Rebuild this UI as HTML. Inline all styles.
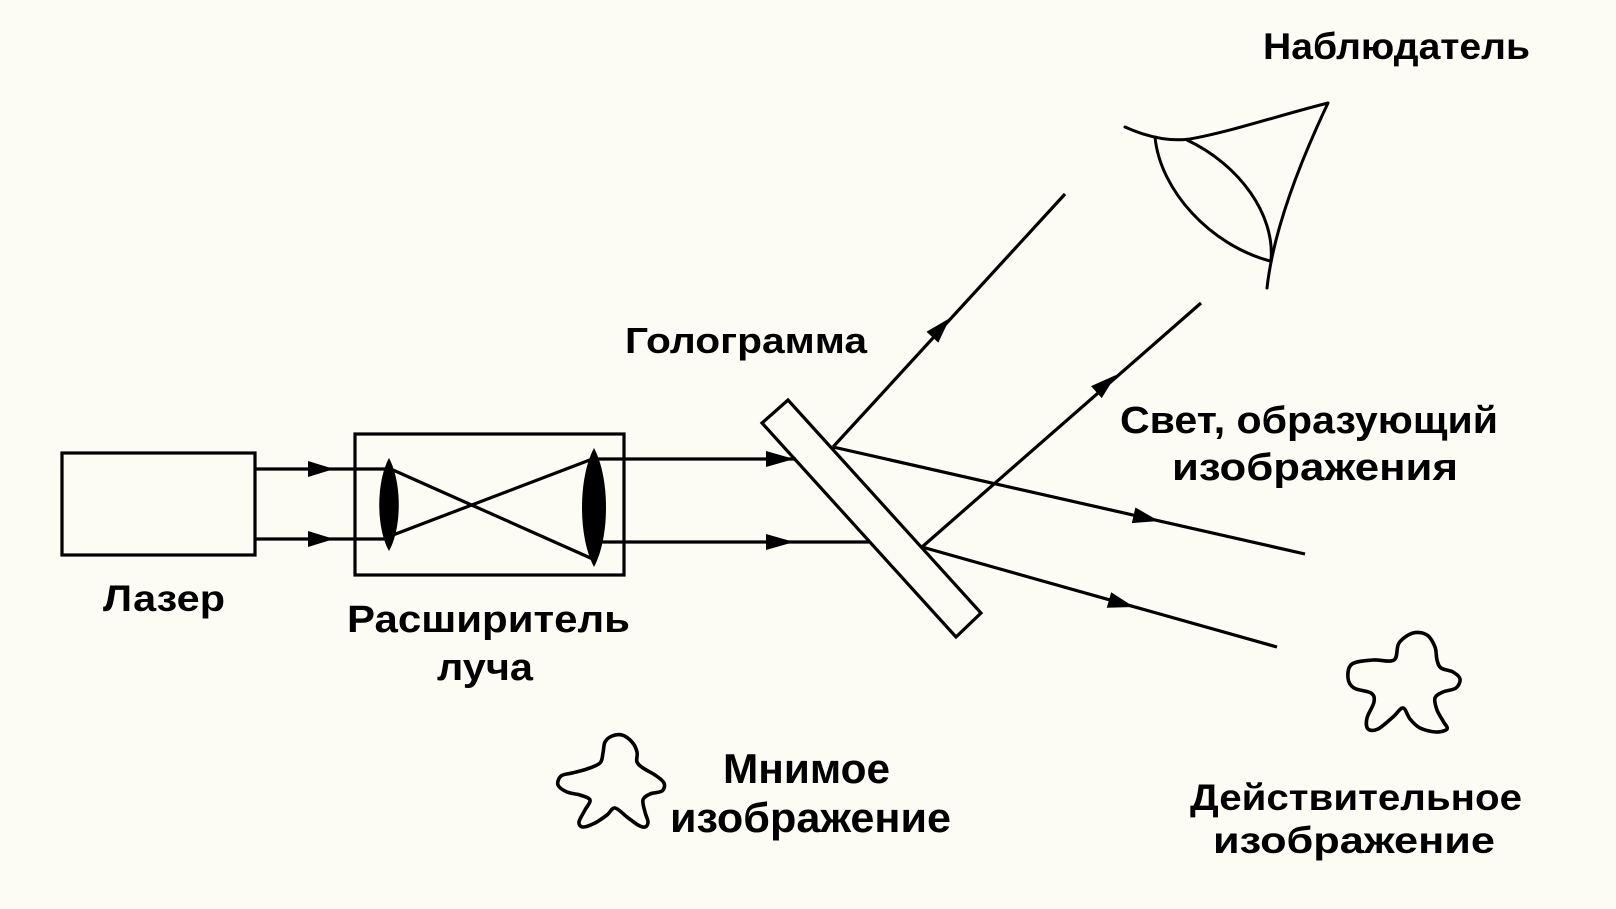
<!DOCTYPE html>
<html>
<head>
<meta charset="utf-8">
<style>
  html, body { margin: 0; padding: 0; background: #fcfcf4; }
  svg { display: block; }
  text { font-family: "Liberation Sans", "DejaVu Sans", sans-serif; font-weight: bold; fill: #000; }
</style>
</head>
<body>
<svg id="dia" width="1616" height="909" viewBox="0 0 1616 909" xmlns="http://www.w3.org/2000/svg">
  <rect x="0" y="0" width="1616" height="909" fill="#fcfcf4"/>

  <g stroke="#000" stroke-width="3.2" fill="none" stroke-linecap="butt">
    <!-- Laser box -->
    <rect x="62" y="453" width="193" height="102"/>
    <!-- Beam expander box -->
    <rect x="355" y="434" width="269" height="141"/>

    <!-- Laser beams into expander -->
    <line x1="255" y1="469" x2="389" y2="469"/>
    <line x1="255" y1="539" x2="389" y2="539"/>

    <!-- Crossing rays inside expander -->
    <line x1="393" y1="470" x2="595" y2="560"/>
    <line x1="393" y1="535" x2="595" y2="458"/>

    <!-- Expanded beams to hologram -->
    <line x1="594" y1="459" x2="796" y2="459"/>
    <line x1="594" y1="542" x2="870" y2="542"/>

    <!-- Hologram plate -->
    <polygon points="762,423 788,400 981,613 956,637" stroke-linejoin="miter"/>

    <!-- Diffracted rays -->
    <line x1="833" y1="447" x2="1065" y2="194"/>
    <line x1="922" y1="547" x2="1201" y2="303"/>
    <line x1="833" y1="447" x2="1305" y2="554"/>
    <line x1="922" y1="547" x2="1277" y2="647"/>
  </g>

  <!-- Lenses -->
  <g fill="#000" stroke="none">
    <path d="M389,458 C402,482 402,528 389,551 C376,528 376,482 389,458 Z"/>
    <path d="M594,448 C610,478 610,537 594,567 C578,537 578,478 594,448 Z"/>
  </g>

  <!-- Arrowheads -->
  <g fill="#000" stroke="none">
    <polygon points="308,461 334,469 308,477"/>
    <polygon points="308,531 334,539 308,547"/>
    <polygon points="766,451 794,459 766,467"/>
    <polygon points="766,534 794,542 766,550"/>
    <polygon points="950,318 938.3,342.6 926.5,331.8"/>
    <polygon points="1116,375 1101.7,398.1 1091.1,386.1"/>
    <polygon points="1159,521 1131.8,523.1 1135.4,507.5"/>
    <polygon points="1134,607 1106.8,607.7 1111.2,592.3"/>
  </g>

  <!-- Eye (observer) -->
  <g stroke="#000" stroke-width="3" fill="none" stroke-linecap="round" stroke-linejoin="round">
    <path d="M1125,127 C1145,136 1168,142 1190,139 C1230,132 1280,115 1328,103 Q1275,215 1267,288"/>
    <path d="M1155,137 C1160,190 1210,245 1270,261"/>
    <path d="M1187,140 C1240,165 1275,215 1271,260"/>
  </g>

  <!-- Figures -->
  <g id="blobs" stroke="#000" stroke-width="3.6" fill="none" stroke-linejoin="round">
    <polygon class="blob" points="612,736 622,735 632,742 637,752 637,762 643,768 655,775 664,783 662,791 650,794 643,800 645,812 648,822 645,827 638,825 627,817 615,808 607,815 595,823 583,827 579,822 585,810 590,800 580,795 567,792 558,785 561,776 572,773 587,769 600,763 603,753 605,742"/>
    <polygon class="blob" points="1413,633 1427,635 1435,647 1437,660 1441,668 1453,672 1460,679 1456,688 1443,692 1435,698 1437,710 1443,721 1447,729 1436,732 1420,728 1410,719 1403,708 1393,717 1378,729 1368,729 1367,718 1374,702 1371,693 1354,688 1348,678 1352,664 1373,660 1394,660 1399,643"/>
  </g>

  <!-- Labels -->
  <text x="1263" y="59" font-size="37" textLength="267" lengthAdjust="spacingAndGlyphs">Наблюдатель</text>
  <text x="625" y="353" font-size="36" textLength="242" lengthAdjust="spacingAndGlyphs">Голограмма</text>
  <text x="1120" y="433" font-size="38" textLength="378" lengthAdjust="spacingAndGlyphs">Свет, образующий</text>
  <text x="1172" y="480" font-size="38" textLength="286" lengthAdjust="spacingAndGlyphs">изображения</text>
  <text x="103" y="611" font-size="37" textLength="122" lengthAdjust="spacingAndGlyphs">Лазер</text>
  <text x="347" y="632" font-size="38" textLength="283" lengthAdjust="spacingAndGlyphs">Расширитель</text>
  <text x="437" y="680" font-size="38" textLength="96" lengthAdjust="spacingAndGlyphs">луча</text>
  <text x="723" y="783" font-size="42" textLength="167" lengthAdjust="spacingAndGlyphs">Мнимое</text>
  <text x="670" y="832" font-size="42" textLength="281" lengthAdjust="spacingAndGlyphs">изображение</text>
  <text x="1190" y="810" font-size="37" textLength="332" lengthAdjust="spacingAndGlyphs">Действительное</text>
  <text x="1213" y="853" font-size="37" textLength="282" lengthAdjust="spacingAndGlyphs">изображение</text>
</svg>
<script>
(function(){
  var ns = "http://www.w3.org/2000/svg";
  var polys = document.querySelectorAll('polygon.blob');
  for (var k = 0; k < polys.length; k++) {
    var pg = polys[k];
    var pts = pg.getAttribute('points').trim().split(/\s+/).map(function(s){
      return s.split(',').map(Number);
    });
    var n = pts.length;
    var d = 'M' + pts[0][0] + ',' + pts[0][1];
    for (var i = 0; i < n; i++) {
      var p0 = pts[(i - 1 + n) % n], p1 = pts[i], p2 = pts[(i + 1) % n], p3 = pts[(i + 2) % n];
      var c1x = p1[0] + (p2[0] - p0[0]) / 6, c1y = p1[1] + (p2[1] - p0[1]) / 6;
      var c2x = p2[0] - (p3[0] - p1[0]) / 6, c2y = p2[1] - (p3[1] - p1[1]) / 6;
      d += ' C' + c1x.toFixed(2) + ',' + c1y.toFixed(2) + ' ' + c2x.toFixed(2) + ',' + c2y.toFixed(2) + ' ' + p2[0] + ',' + p2[1];
    }
    d += ' Z';
    var path = document.createElementNS(ns, 'path');
    path.setAttribute('d', d);
    pg.parentNode.replaceChild(path, pg);
  }
})();
</script>
</body>
</html>
